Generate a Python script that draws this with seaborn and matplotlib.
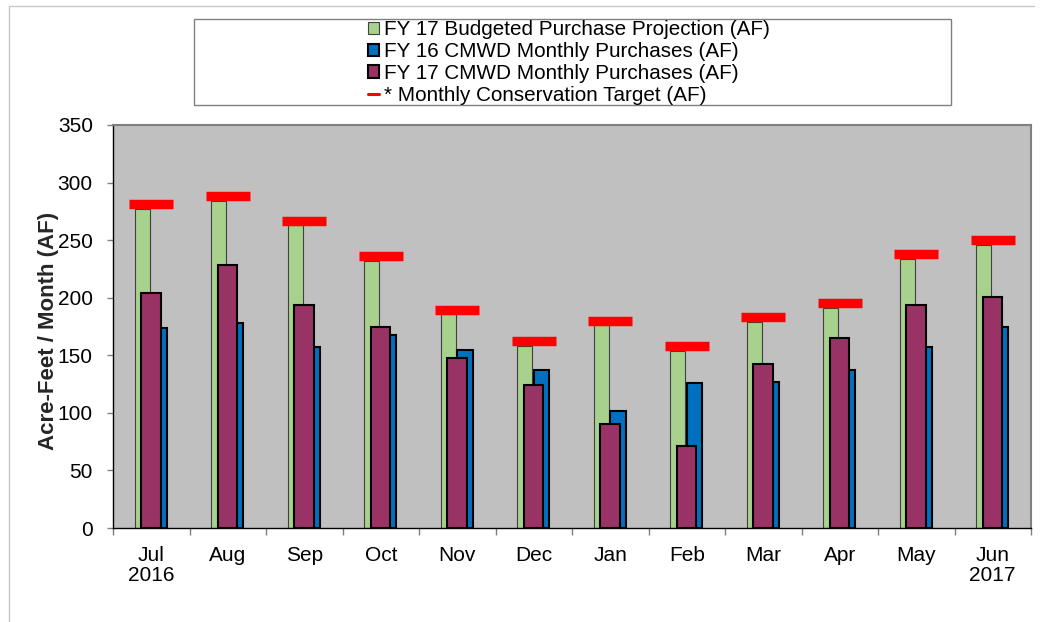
import numpy as np
import seaborn as sns
import matplotlib.pyplot as plt
from matplotlib.patches import Patch, Rectangle
from matplotlib.lines import Line2D

months = ['Jul\n2016', 'Aug', 'Sep', 'Oct', 'Nov', 'Dec',
          'Jan', 'Feb', 'Mar', 'Apr', 'May', 'Jun\n2017']
budget_fy17 = [277, 284, 263, 232, 186, 158, 176, 154, 179, 191, 234, 246]
purch_fy16 = [174, 178, 157, 168, 155, 137, 102, 126, 127, 137, 157, 175]
purch_fy17 = [204, 228, 194, 175, 148, 124, 90, 71, 142, 165, 194, 201]
target = [281, 288, 267, 236, 189, 162, 180, 158, 183, 195, 238, 250]

labels = ['FY 17 Budgeted Purchase Projection (AF)',
          'FY 16 CMWD Monthly Purchases (AF)',
          'FY 17 CMWD Monthly Purchases (AF)',
          '* Monthly Conservation Target (AF)']

c_green = '#A9D18E'
c_blue = '#0070C0'
c_purple = '#993366'

sns.set_theme(style='ticks')
plt.rcParams['font.family'] = ['Liberation Sans', 'DejaVu Sans']
plt.rcParams['text.color'] = 'black'
plt.rcParams['xtick.labelcolor'] = 'black'
plt.rcParams['ytick.labelcolor'] = 'black'

x = np.arange(len(months))

fig = plt.figure(figsize=(10.44, 6.22), dpi=100)
ax = fig.add_axes([113/1044, 1 - 528/622, (1031 - 113)/1044, 403/622])
ax.set_facecolor('#C0C0C0')

# bars overlap each other, so each series gets its own offset on a numeric axis
sns.barplot(x=x - 0.117, y=budget_fy17, native_scale=True, width=0.2,
            color=c_green, saturation=1, edgecolor='#404040', linewidth=0.8,
            errorbar=None, ax=ax, zorder=2)
sns.barplot(x=x + 0.10, y=purch_fy16, native_scale=True, width=0.2,
            color=c_blue, saturation=1, edgecolor='black', linewidth=1.5,
            errorbar=None, ax=ax, zorder=3)
sns.barplot(x=x - 0.005, y=purch_fy17, native_scale=True, width=0.255,
            color=c_purple, saturation=1, edgecolor='black', linewidth=1.5,
            errorbar=None, ax=ax, zorder=4)
sns.scatterplot(x=x, y=target, marker='_', s=1004, linewidth=6.8,
                color='red', legend=False, ax=ax, zorder=5)

ax.set_xlim(-0.5, 11.5)
ax.set_ylim(0, 350)
ax.set_yticks(range(0, 351, 50))

ax.set_xticks(np.arange(-0.5, 12, 1))
ax.set_xticklabels([])
ax.set_xticks(x, minor=True)
ax.set_xticklabels(months, minor=True)
for t in ax.get_xticklabels(minor=True):
    t.set_linespacing(1.05)

ax.tick_params(axis='x', which='major', length=5, width=1, color='#808080')
ax.tick_params(axis='x', which='minor', length=0, pad=13, labelsize=15)
ax.tick_params(axis='y', length=4.5, width=1, color='#808080', pad=10, labelsize=15)

ax.set_xlabel('')
ax.set_ylabel('Acre-Feet / Month (AF)', fontsize=16, fontweight='bold')
ax.yaxis.set_label_coords(-0.059, 0.49)

for s in ['left', 'bottom']:
    ax.spines[s].set_color('black')
    ax.spines[s].set_linewidth(1)
for s in ['top', 'right']:
    ax.spines[s].set_color('#808080')
    ax.spines[s].set_linewidth(1.5)

# legend box
fig.add_artist(Rectangle((194/1044, 1 - 105/622), (951 - 194)/1044, 86/622,
                         transform=fig.transFigure, fill=False,
                         edgecolor='#808080', lw=1))
handles = [Patch(facecolor=c_green, edgecolor='#404040', lw=0.8),
           Patch(facecolor=c_blue, edgecolor='black', lw=1.5),
           Patch(facecolor=c_purple, edgecolor='black', lw=1.5),
           Line2D([], [], color='red', lw=2.2)]
fig.legend(handles, labels, loc='center', bbox_to_anchor=(569/1044, 1 - 62.5/622),
           frameon=False, fontsize=14.9, handlelength=0.53, handleheight=0.53,
           handletextpad=0.25, labelspacing=0.13, borderpad=0)

# faint outer frame
fig.add_artist(Line2D([9/1044, 9/1044], [0, 1 - 6/622], transform=fig.transFigure,
                      color='#C8C8C8', lw=1))
fig.add_artist(Line2D([9/1044, 1034/1044], [1 - 6/622, 1 - 6/622],
                      transform=fig.transFigure, color='#C8C8C8', lw=1))

fig.savefig('out.png', dpi=100)
